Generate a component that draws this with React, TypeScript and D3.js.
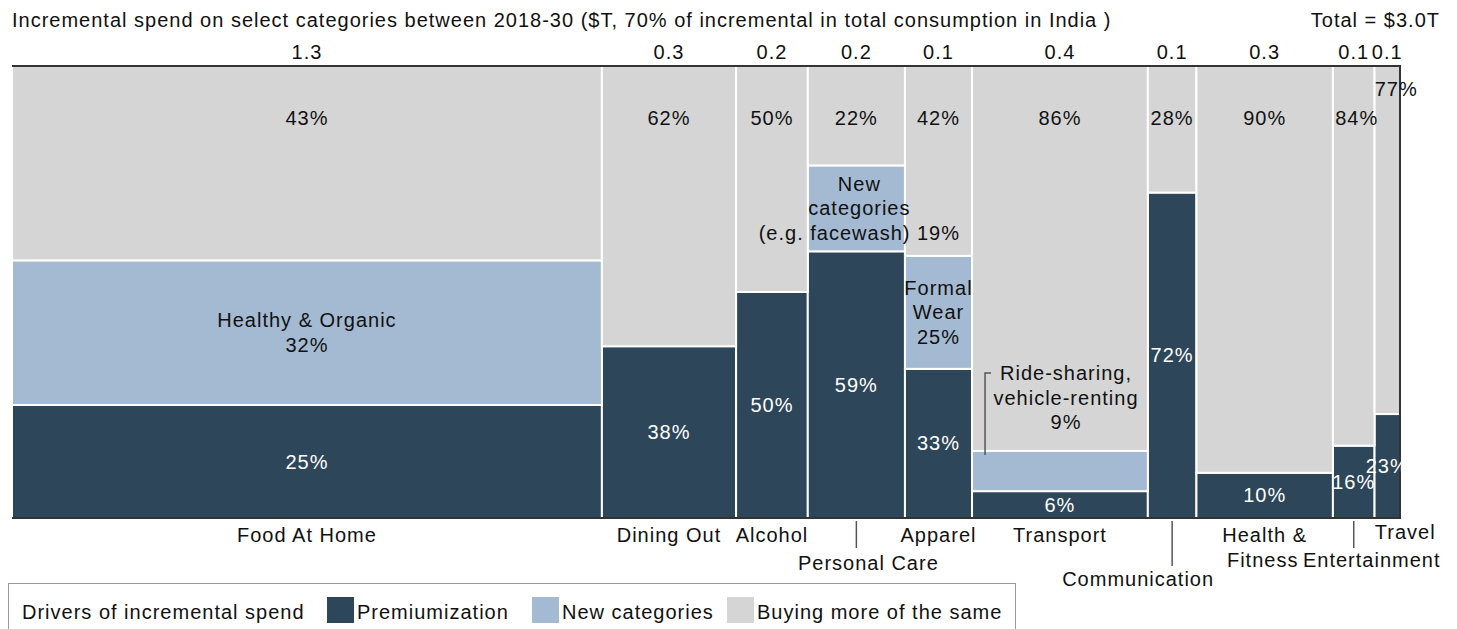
import React, { useEffect, useRef } from "react";
import * as d3 from "d3";

// categories and spend ($T, column widths)
const categories = ["Food At Home", "Dining Out", "Alcohol", "Personal Care", "Apparel", "Transport", "Communication", "Health & Fitness", "Entertainment", "Travel"];
const spend = [1.275, 0.29, 0.155, 0.21, 0.145, 0.38, 0.105, 0.295, 0.09, 0.055];
const totalLabel = "Total = $3.0T";

// share of each driver (%)
const premiumization = [25, 38, 50, 59, 33, 6, 72, 10, 16, 23];
const newCategories = [32, 0, 0, 19, 25, 9, 0, 0, 0, 0];
const moreOfSame = [43, 62, 50, 22, 42, 86, 28, 90, 84, 77];

// names of the new categories shown in the light segments
const newCategoryNames = ["Healthy & Organic", "", "", "New categories (e.g. facewash)", "Formal Wear", "Ride-sharing, vehicle-renting", "", "", "", ""];

const seriesKeys = ["premiumization", "newCategories", "moreOfSame"];
const seriesNames = ["Premiumization", "New categories", "Buying more of the same"];
const colors = ["#2d4659", "#a3bad2", "#d5d5d5"];

const W = 1457;
const H = 629;
const FONT = "'Liberation Sans', Arial, sans-serif";

export default function App() {
    const ref = useRef(null);

    useEffect(() => {
        const svg = d3.select(ref.current);
        svg.selectAll("*").remove();

        const left = 12, right = 1400, top = 66, bottom = 518;
        const total = d3.sum(spend);
        const x = d3.scaleLinear().domain([0, total]).range([left, right]);
        const y = d3.scaleLinear().domain([0, 1]).range([bottom, top]);
        const starts = d3.cumsum([0, ...spend]);
        const cx = (i) => x(starts[i] + spend[i] / 2);

        const rows = categories.map((c, i) => ({
            premiumization: premiumization[i],
            newCategories: newCategories[i],
            moreOfSame: moreOfSame[i],
        }));
        const stacked = d3.stack().keys(seriesKeys).offset(d3.stackOffsetExpand)(rows);

        const g = svg.append("g")
            .attr("font-family", FONT)
            .attr("font-size", 20)
            .attr("letter-spacing", 1)
            .attr("fill", "#111");

        // title
        g.append("text").attr("x", 12).attr("y", 20).attr("dominant-baseline", "central")
            .text("Incremental spend on select categories between 2018-30 ($T, 70% of incremental in total consumption in India )");
        g.append("text").attr("x", 1440).attr("y", 20).attr("dominant-baseline", "central")
            .attr("text-anchor", "end").text(totalLabel);

        // segments
        stacked.forEach((layer, k) => {
            g.append("g").selectAll("rect").data(layer).join("rect")
                .attr("x", (d, i) => x(starts[i]))
                .attr("width", (d, i) => x(starts[i] + spend[i]) - x(starts[i]))
                .attr("y", (d) => y(d[1]))
                .attr("height", (d) => y(d[0]) - y(d[1]))
                .attr("fill", colors[k])
                .attr("stroke", "#fff")
                .attr("stroke-width", 2);
        });

        // frame (top, right, bottom)
        g.append("path").attr("fill", "none").attr("stroke", "#333").attr("stroke-width", 2)
            .attr("d", `M${left},${top}H${right}V${bottom}H${left}`);

        // spend values on top
        g.append("g").selectAll("text").data(spend).join("text")
            .attr("x", (d, i) => cx(i))
            .attr("y", 52).attr("text-anchor", "middle").attr("dominant-baseline", "central")
            .text((d) => d3.format(".1f")(d));

        // premiumization labels
        const prem = stacked[0];
        g.append("g").selectAll("text").data(prem).join("text")
            .attr("x", (d, i) => cx(i))
            .attr("y", (d) => y((d[0] + d[1]) / 2))
            .attr("text-anchor", "middle").attr("dominant-baseline", "central")
            .attr("fill", "#fff")
            .text((d, i) => premiumization[i] + "%");

        // more-of-the-same labels near the top
        g.append("g").selectAll("text").data(moreOfSame).join("text")
            .attr("x", (d, i) => cx(i) + (i === 9 ? 9 : i === 8 ? 3 : 0))
            .attr("y", (d, i) => (i === 9 ? 89 : 118))
            .attr("text-anchor", "middle").attr("dominant-baseline", "central")
            .text((d) => d + "%");

        // new-category labels
        const nl = stacked[1];
        const lineH = 24.5;
        const newLines = {
            0: ["Healthy & Organic", "32%"],
            3: ["New", "categories", "(e.g. facewash) 19%"],
            4: ["Formal", "Wear", "25%"],
        };
        newCategoryNames.forEach((name, i) => {
            if (!name) return;
            const d = nl[i];
            if (i === 5) {
                // callout above the thin transport segment
                const lines = ["Ride-sharing,", "vehicle-renting", newCategories[i] + "%"];
                const ty = 373;
                lines.forEach((s, j) => {
                    g.append("text").attr("x", 1066).attr("y", ty + j * lineH)
                        .attr("text-anchor", "middle").attr("dominant-baseline", "central").text(s);
                });
                g.append("path").attr("fill", "none").attr("stroke", "#555").attr("stroke-width", 1.5)
                    .attr("d", `M${x(starts[i]) + 13},${y(d[0] + (d[1] - d[0]) * 0.9)}V${ty}h6`);
                return;
            }
            const lines = newLines[i];
            const mid = y((d[0] + d[1]) / 2);
            lines.forEach((s, j) => {
                g.append("text").attr("x", cx(i) + (i === 3 ? 3 : 0))
                    .attr("y", mid + (j - (lines.length - 1) / 2) * lineH)
                    .attr("text-anchor", "middle").attr("dominant-baseline", "central").text(s);
            });
        });

        // category names under the chart
        const nameLayout = [
            { dx: 0, y: 535 }, { dx: 0, y: 535 }, { dx: 0, y: 535 }, { dx: 12, y: 563, tick: 548 },
            { dx: 0, y: 535 }, { dx: 0, y: 535 }, { dx: -34, y: 579, tick: 566 }, { dx: 0, y: 535 },
            { dx: 18, y: 560, tick: 548 }, { dx: 18, y: 532 },
        ];
        categories.forEach((c, i) => {
            const L = nameLayout[i];
            const lines = c === "Health & Fitness" ? ["Health &", "Fitness"] : [c];
            lines.forEach((s, j) => {
                g.append("text").attr("x", cx(i) + L.dx + (j === 1 ? -2 : 0)).attr("y", L.y + j * 25)
                    .attr("text-anchor", "middle").attr("dominant-baseline", "central").text(s);
            });
            if (L.tick) {
                g.append("line").attr("x1", cx(i)).attr("x2", cx(i)).attr("y1", bottom + 3).attr("y2", L.tick)
                    .attr("stroke", "#555").attr("stroke-width", 1.5);
            }
        });

        // legend
        const lg = g.append("g");
        lg.append("rect").attr("x", 8.5).attr("y", 583.5).attr("width", 1007).attr("height", 70)
            .attr("fill", "none").attr("stroke", "#999");
        lg.append("text").attr("x", 22).attr("y", 612).attr("dominant-baseline", "central").text("Drivers of incremental spend");
        const legendX = [327, 532, 727];
        seriesNames.forEach((s, k) => {
            lg.append("rect").attr("x", legendX[k]).attr("y", 597).attr("width", 27).attr("height", 26).attr("fill", colors[k]);
            lg.append("text").attr("x", legendX[k] + 30).attr("y", 612).attr("dominant-baseline", "central").text(s);
        });
    }, []);

    return (
        <svg ref={ref} width={W} height={H} style={{ position: "absolute", left: 0, top: 0, background: "#fff" }} />
    );
}
